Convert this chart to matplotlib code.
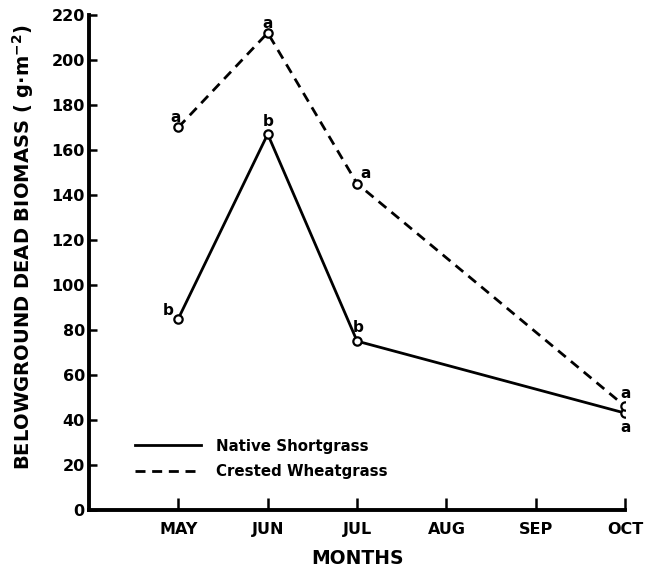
import matplotlib
import numpy as np

matplotlib.use("Agg")
import matplotlib.pyplot as plt
from matplotlib.lines import Line2D

# ----------------------------------------------------------------------
# data
# ----------------------------------------------------------------------
MONTHS = ["MAY", "JUN", "JUL", "AUG", "SEP", "OCT"]
SAMPLE_MONTHS = ["MAY", "JUN", "JUL", "OCT"]

NATIVE = [85, 167, 75, 43]
CRESTED = [170, 212, 145, 46]

NATIVE_SIG = ["b", "b", "b", "a"]
CRESTED_SIG = ["a", "a", "a", "a"]

Y_TICKS = [0, 20, 40, 60, 80, 100, 120, 140, 160, 180, 200, 220]

plt.rcParams["font.family"] = ["DejaVu Sans"]
plt.rcParams["font.weight"] = "bold"
plt.rcParams["mathtext.default"] = "regular"

DASH = (0, (3.6, 2.4))

fig = plt.figure(figsize=(6.54, 5.71), dpi=100)
ax = fig.add_axes([0.136, 0.107, 0.820, 0.867])

month_pos = {m: i + 1 for i, m in enumerate(MONTHS)}
x = np.array([month_pos[m] for m in SAMPLE_MONTHS])

ax.plot(x, NATIVE, color="black", lw=2.0, marker="o", ms=6,
        mfc="white", mec="black", mew=1.6, zorder=3)
ax.plot(x, CRESTED, color="black", lw=2.0, ls=DASH, marker="o", ms=6,
        mfc="white", mec="black", mew=1.6, zorder=3)

# significance letters (offsets in points from each marker)
native_off = [(-7, 6), (0, 9), (1, 10), (0, -10)]
crested_off = [(-2, 7), (0, 7), (6, 7), (0, 9)]
for xi, yi, s, off in zip(x, NATIVE, NATIVE_SIG, native_off):
    ax.annotate(s, (xi, yi), xytext=off, textcoords="offset points",
                ha="center", va="center", fontsize=11, fontweight="bold")
for xi, yi, s, off in zip(x, CRESTED, CRESTED_SIG, crested_off):
    ax.annotate(s, (xi, yi), xytext=off, textcoords="offset points",
                ha="center", va="center", fontsize=11, fontweight="bold")

ax.set_xlim(0, 6)
ax.set_ylim(0, 220)
ax.set_xticks(list(month_pos.values()))
ax.set_xticklabels(MONTHS, fontsize=11.5, fontweight="bold")
ax.set_yticks(Y_TICKS)
ax.set_yticklabels([str(t) for t in Y_TICKS], fontsize=11.5)

for side in ("top", "right"):
    ax.spines[side].set_visible(False)
for side in ("left", "bottom"):
    ax.spines[side].set_linewidth(2.8)

ax.tick_params(axis="y", direction="in", length=6, width=1.8, pad=3)
ax.tick_params(axis="x", direction="in", length=9, width=1.8, pad=9)

ax.set_xlabel("MONTHS", fontsize=13.5, fontweight="bold", labelpad=8)
ax.set_ylabel(r"BELOWGROUND DEAD BIOMASS ( g$\cdot$m$^{-2}$)", fontsize=14,
              fontweight="bold")
ax.yaxis.set_label_coords(-0.098, 0.53)

handles = [
    Line2D([], [], color="black", lw=2.0),
    Line2D([], [], color="black", lw=2.0, ls=DASH),
]
ax.legend(handles, ["Native Shortgrass", "Crested Wheatgrass"],
          loc="lower left", bbox_to_anchor=(0.06, 0.035), frameon=False,
          fontsize=10.8, handlelength=4.4, handletextpad=1.0, labelspacing=0.7)

fig.savefig("out.png", dpi=100)
